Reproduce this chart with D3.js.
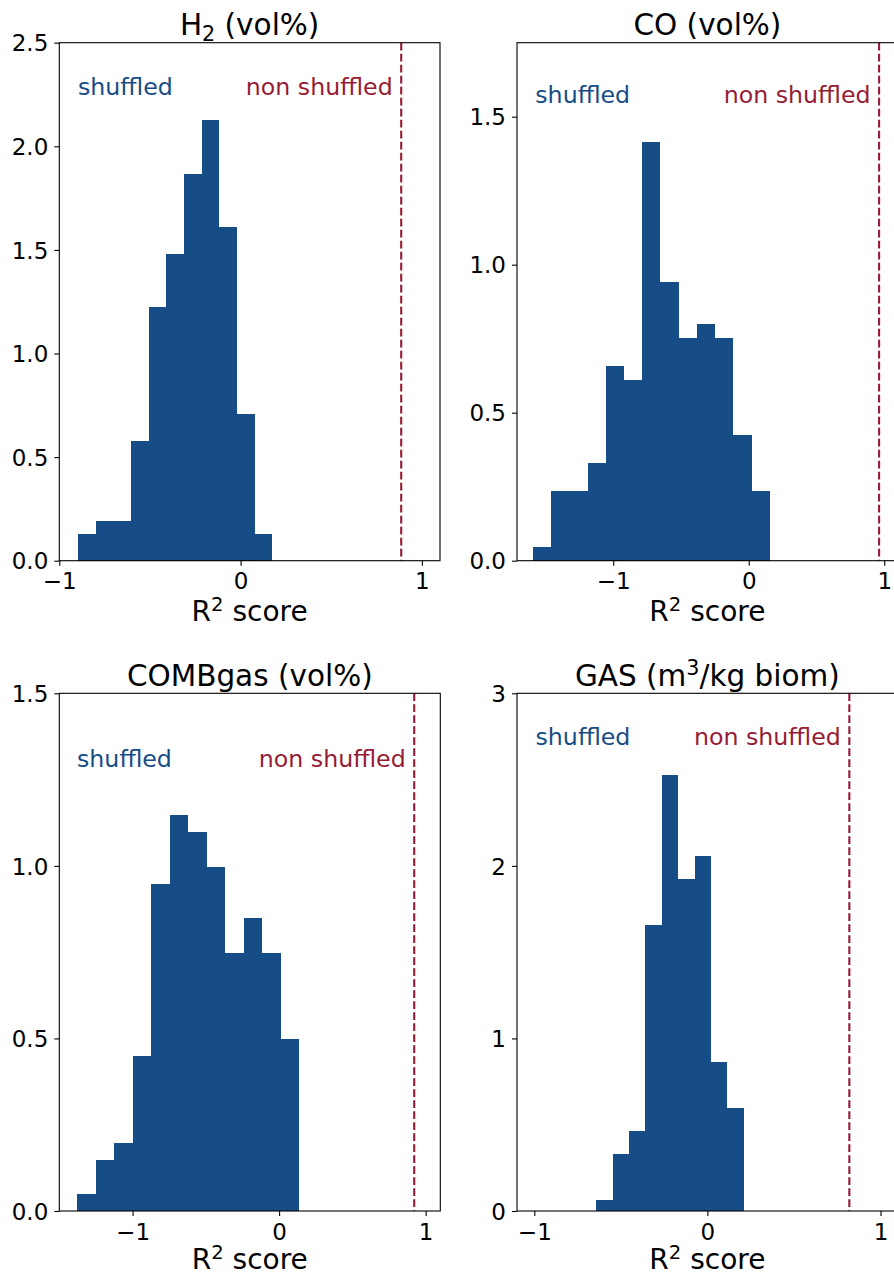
<!DOCTYPE html>
<html>
<head>
<meta charset="utf-8">
<script src="https://cdn.jsdelivr.net/npm/d3@7"></script>
<style>
  html, body { margin: 0; padding: 0; background: #ffffff; overflow: hidden; }
  svg { display: block; }
  text { font-family: "DejaVu Sans", sans-serif; fill: #000; }
</style>
</head>
<body>
<svg id="chart" width="894" height="1276"></svg>
<script>
// Histogram densities of R² scores obtained with shuffled targets,
// one array per predicted quantity (equal-width bins between lo and hi).
const h2Density      = [0.129, 0.193, 0.193, 0.578, 1.224, 1.480, 1.866, 2.127, 1.610, 0.708, 0.129];
const coDensity      = [0.046, 0.235, 0.235, 0.330, 0.658, 0.610, 1.414, 0.941, 0.752, 0.800, 0.752, 0.425, 0.235];
const combgasDensity = [0.049, 0.148, 0.198, 0.449, 0.948, 1.147, 1.098, 0.997, 0.748, 0.849, 0.748, 0.498];
const gasDensity     = [0.064, 0.330, 0.463, 1.655, 2.524, 1.923, 2.057, 0.863, 0.597];

// Range covered by the bins of each histogram [lo, hi]
const h2Range      = [-0.897, 0.176];
const coRange      = [-1.592, 0.155];
const combgasRange = [-1.377, 0.136];
const gasRange     = [-0.643, 0.210];

// R² score of the model trained on the non-shuffled targets
const nonShuffledScores = [0.886, 0.962, 0.922, 0.820];

// Axis ticks
const xTicks        = [-1, 0, 1];
const h2YTicks      = [0, 0.5, 1.0, 1.5, 2.0, 2.5];
const coYTicks      = [0, 0.5, 1.0, 1.5];
const combgasYTicks = [0, 0.5, 1.0, 1.5];
const gasYTicks     = [0, 1, 2, 3];

// Panel titles as pieces; shift: 0 normal, -1 subscript, +1 superscript
const titles = [
  [{t: "H", shift: 0}, {t: "2", shift: -1}, {t: " (vol%)", shift: 0}],
  [{t: "CO (vol%)", shift: 0}],
  [{t: "COMBgas (vol%)", shift: 0}],
  [{t: "GAS (m", shift: 0}, {t: "3", shift: 1}, {t: "/kg biom)", shift: 0}]
];
const xLabel = [{t: "R", shift: 0}, {t: "2", shift: 1}, {t: " score", shift: 0}];

// Layout of each panel: plot rectangle, domains, annotation anchors (data units)
const panels = [
  { box: [59.3, 42.7, 440.0, 560.7],   xDom: [-1.0, 1.1],  yDom: [0, 2.5],  density: h2Density,      range: h2Range,      yTicks: h2YTicks,      yFmt: d3.format(".1f"), labX: -0.897, labY: 2.25,  xlOff: 60 },
  { box: [517.0, 42.7, 897.8, 560.7],  xDom: [-1.71, 1.1], yDom: [0, 1.75], density: coDensity,      range: coRange,      yTicks: coYTicks,      yFmt: d3.format(".1f"), labX: -1.575, labY: 1.546, xlOff: 60 },
  { box: [59.3, 693.3, 440.3, 1211.0], xDom: [-1.5, 1.1],  yDom: [0, 1.5],  density: combgasDensity, range: combgasRange, yTicks: combgasYTicks, yFmt: d3.format(".1f"), labX: -1.379, labY: 1.287, xlOff: 58.3 },
  { box: [517.0, 693.3, 897.8, 1211.0],xDom: [-1.1, 1.1],  yDom: [0, 3],    density: gasDensity,     range: gasRange,     yTicks: gasYTicks,     yFmt: d3.format("d"),   labX: -0.993, labY: 2.70,  xlOff: 58.3 }
];

const BLUE = "#174d87";
const RED = "#961c36";
const TICK_FS = 23;
const TITLE_FS = 29.5;
const XLABEL_FS = 28;
const NOTE_FS = 23.7;

const svg = d3.select("#chart");
const minusFmt = d => (d < 0 ? "\u2212" : "") + Math.abs(d);

// Writes rich text pieces (with sub/superscripts) into a text element
function richText(sel, pieces, fs) {
  let cur = 0;
  pieces.forEach(p => {
    const target = p.shift === 0 ? 0 : (p.shift < 0 ? fs * 0.2 : -fs * 0.36);
    const ts = sel.append("tspan").attr("dy", target - cur).text(p.t);
    if (p.shift !== 0) ts.attr("font-size", fs * 0.7);
    cur = target;
  });
}

panels.forEach((p, i) => {
  const [x0, y0, x1, y1] = p.box;
  const x = d3.scaleLinear().domain(p.xDom).range([x0, x1]);
  const y = d3.scaleLinear().domain(p.yDom).range([y1, y0]);
  const g = svg.append("g");

  // histogram bins
  const n = p.density.length;
  const w = (p.range[1] - p.range[0]) / n;
  const bins = p.density.map((v, k) => ({ a: p.range[0] + k * w, b: p.range[0] + (k + 1) * w, v }));
  g.selectAll("rect.bar").data(bins).join("rect")
    .attr("class", "bar")
    .attr("x", d => x(d.a))
    .attr("width", d => x(d.b) - x(d.a))
    .attr("y", d => y(d.v))
    .attr("height", d => y(0) - y(d.v))
    .attr("fill", BLUE)
    .attr("shape-rendering", "crispEdges");

  // non-shuffled score marker
  const s = nonShuffledScores[i];
  g.append("line")
    .attr("x1", x(s)).attr("x2", x(s))
    .attr("y1", y0).attr("y2", y1)
    .attr("stroke", RED).attr("stroke-width", 2.1)
    .attr("stroke-dasharray", "7.7,3.3");

  // annotations
  g.append("text")
    .attr("x", x(p.labX)).attr("y", y(p.labY))
    .attr("font-size", NOTE_FS).style("fill", BLUE)
    .text("shuffled");
  g.append("text")
    .attr("x", x(s) - 8.5).attr("y", y(p.labY))
    .attr("text-anchor", "end")
    .attr("font-size", NOTE_FS).style("fill", RED)
    .text("non shuffled");

  // axes
  const xAxis = d3.axisBottom(x).tickValues(xTicks).tickFormat(minusFmt).tickSizeOuter(0).tickSize(5).tickPadding(5);
  const yAxis = d3.axisLeft(y).tickValues(p.yTicks).tickFormat(p.yFmt).tickSizeOuter(0).tickSize(5).tickPadding(6);

  const gx = g.append("g").attr("transform", `translate(0,${y1})`).call(xAxis);
  const gy = g.append("g").attr("transform", `translate(${x0},0)`).call(yAxis);
  [gx, gy].forEach(ax => {
    ax.select(".domain").remove();
    ax.selectAll(".tick line").attr("stroke", "#000").attr("stroke-width", 1.1);
    ax.selectAll(".tick text").attr("font-size", TICK_FS).attr("font-family", "DejaVu Sans").style("fill", "#000");
  });
  gx.selectAll(".tick text").attr("dy", null).attr("y", 28.5);
  gy.selectAll(".tick text").attr("dy", "0.36em");

  // frame
  g.append("rect")
    .attr("x", x0).attr("y", y0)
    .attr("width", x1 - x0).attr("height", y1 - y0)
    .attr("fill", "none").attr("stroke", "#000").attr("stroke-width", 1.1);

  // title
  const t = g.append("text")
    .attr("x", (x0 + x1) / 2).attr("y", y0 - 7.7)
    .attr("text-anchor", "middle").attr("font-size", TITLE_FS);
  richText(t, titles[i], TITLE_FS);

  // x label
  const xl = g.append("text")
    .attr("x", (x0 + x1) / 2).attr("y", y1 + p.xlOff)
    .attr("text-anchor", "middle").attr("font-size", XLABEL_FS);
  richText(xl, xLabel, XLABEL_FS);
});
</script>
</body>
</html>
